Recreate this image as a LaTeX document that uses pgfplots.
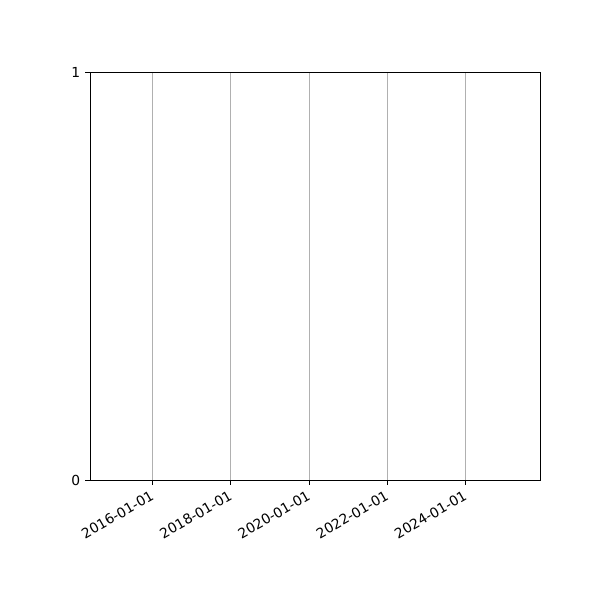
\documentclass[border=0pt]{standalone}
\usepackage{fontspec}
\setmainfont{DejaVu Sans}
\usepackage{pgfplots}
\pgfplotsset{compat=1.18}
\definecolor{gridgray}{HTML}{b0b0b0}

\begin{document}
\begin{tikzpicture}[x=1in,y=1in]
\path[use as bounding box] (0,0) rectangle (6,6);
% x in years; 2016-01-01 to 2024-01-01 ticks, range
\begin{axis}[
    at={(0.9in,1.2in)}, anchor=south west,
    scale only axis,
    width=4.5in, height=4.08in,
    xmin=2014.40, xmax=2025.90,
    ymin=0, ymax=1,
    xtick={2016,2018,2020,2022,2024},
    xticklabels={2016-01-01,2018-01-01,2020-01-01,2022-01-01,2024-01-01},
    ytick={0,1},
    xmajorgrids,
    major grid style={gridgray, line width=0.6pt},
    tick align=outside,
    tick pos=left,
    major tick length=3.5pt,
    every tick/.style={black, line width=0.6pt},
    axis line style={line width=0.6pt},
    tick label style={font=\fontsize{10}{12}\selectfont},
    xticklabel style={rotate=30, anchor=north east, inner sep=2pt, xshift=-1.5pt},
    /pgf/number format/assume math mode=true,
]
\addplot[draw=none] coordinates {};
\end{axis}
\end{tikzpicture}
\end{document}
